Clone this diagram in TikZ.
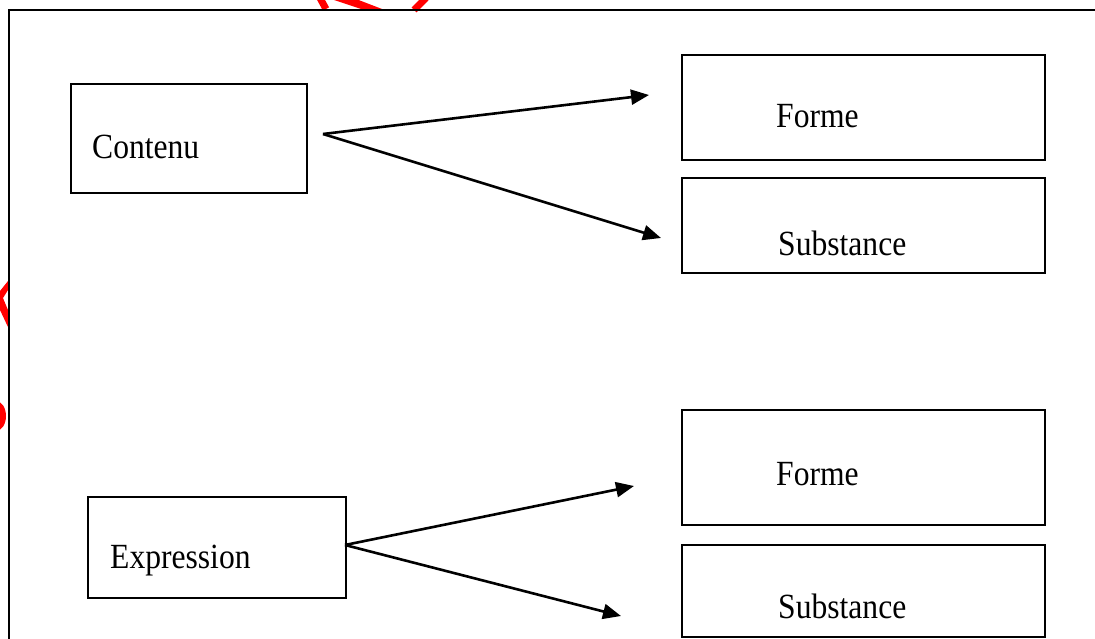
\documentclass[tikz,border=0pt]{standalone}
\usepackage{fontspec}
\setmainfont{Liberation Serif}
\usetikzlibrary{arrows.meta}
\newcommand{\stretchtxt}[1]{\scalebox{1}[1.12]{#1}}
\begin{document}
\begin{tikzpicture}[x=1pt,y=-1pt,
  box/.style={draw=black, line width=1.8pt, rectangle, inner sep=0pt},
  lbl/.style={anchor=base west, inner sep=0pt, font=\fontsize{31.6}{38}\selectfont},
  arr/.style={line width=2.6pt, -{Triangle[length=18pt,width=15pt]}},
  frameline/.style={line width=2.2pt, black},
  stamp/.style={red}]
\useasboundingbox (0,0) rectangle (1095,639);
% stamp fragments
\draw[stamp, line width=7pt] (320,-2) -- (326,9);
\fill[stamp] (331,-1) -- (356,-1) -- (382,9) -- (361,9) -- cycle;
\draw[stamp, line width=7pt] (414,10) -- (426,-2);
\fill[stamp] (8,281) -- (8,290) -- (3,298) -- (8,310) -- (8,327) -- (0,310) -- (0,291) -- cycle;
\fill[stamp] (-4,416) ellipse (10 and 15);
% frame
\draw[frameline] (9,639) -- (9,10) -- (1095,10);
% boxes
\node[box, minimum width=236pt, minimum height=109pt] (contenu) at (189,138.5) {};
\node[box, minimum width=258pt, minimum height=101pt] (expression) at (217,547.5) {};
\node[box, minimum width=363pt, minimum height=105pt] (forme1) at (863.5,107.5) {};
\node[box, minimum width=363pt, minimum height=95pt] (subst1) at (863.5,225.5) {};
\node[box, minimum width=363pt, minimum height=115pt] (forme2) at (863.5,467.5) {};
\node[box, minimum width=363pt, minimum height=92pt] (subst2) at (863.5,591) {};
% labels
\node[lbl] (tcontenu) at (92,159) {\stretchtxt{Contenu}};
\node[lbl] (texpression) at (110,568) {\stretchtxt{Expression}};
\node[lbl] (tforme1) at (776,128) {\stretchtxt{Forme}};
\node[lbl] (tsubst1) at (778,255) {\stretchtxt{Substance}};
\node[lbl] (tforme2) at (776,485) {\stretchtxt{Forme}};
\node[lbl] (tsubst2) at (778,618) {\stretchtxt{Substance}};
% connectors
\coordinate (c0) at (323,134);
\coordinate (c1) at (649,95);
\coordinate (c2) at (661,238);
\coordinate (e0) at (345,545);
\coordinate (e1) at (634,486);
\coordinate (e2) at (621,616);
\draw[arr] (c0) -- (c1);
\draw[arr] (c0) -- (c2);
\draw[arr] (e0) -- (e1);
\draw[arr] (e0) -- (e2);
\end{tikzpicture}
\end{document}
